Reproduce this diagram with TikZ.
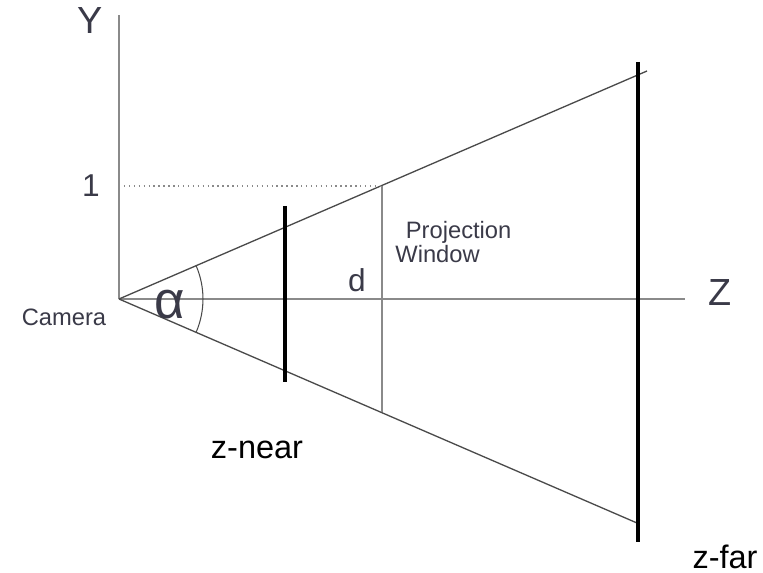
\documentclass[tikz,border=0pt]{standalone}
\usepackage{fontspec}
\setmainfont{Liberation Sans}
\definecolor{lbl}{HTML}{3A3A48}
\definecolor{axisgray}{HTML}{8A8A8A}
\definecolor{raygray}{HTML}{4A4A4A}
\begin{document}
\begin{tikzpicture}[x=0.02cm,y=-0.02cm,
  every node/.style={text=lbl,inner sep=0pt},
  axisline/.style={axisgray,line width=1.1pt},
  rayline/.style={raygray,line width=0.75pt},
  clipline/.style={black,line width=2.8pt},
  axislbl/.style={font=\fontsize{21.5}{22}\selectfont},
  smalllbl/.style={font=\fontsize{18}{18}\selectfont},
  planelbl/.style={text=black,font=\fontsize{18.5}{19}\selectfont}]
  \useasboundingbox (0,0) rectangle (763,573);
  % axes
  \coordinate (cam) at (119,299);
  \coordinate (ytop) at (119,15);
  \coordinate (zend) at (685,299);
  \draw[axisline] (cam) -- (ytop);
  \draw[axisline] (cam) -- (zend);
  \node[axislbl] (ylbl) at (90,21) {Y};
  \node[axislbl] (zlbl) at (720,293) {Z};
  \node[smalllbl] (onelbl) at (91,186) {1};
  \node[font=\fontsize{13.5}{13.5}\selectfont] (camlbl) at (64,317) {Camera};
  % frustum
  \coordinate (uend) at (647,71);
  \coordinate (lend) at (637,523);
  \draw[rayline] (cam) -- (uend);
  \draw[rayline] (cam) -- (lend);
  \draw[raygray,line width=0.6pt] (cam) ++(-23.3:1.68cm) arc[start angle=-23.3,end angle=23.3,radius=1.68cm];
  \node[font=\fontsize{30}{30}\selectfont] (alpha) at (170,305) {α};
  % projection window
  \coordinate (ytick) at (119,186);
  \coordinate (wtop) at (382,186);
  \coordinate (wbot) at (382,412);
  \draw[axisgray,line width=0.8pt,dotted] (ytick) -- (wtop);
  \draw[axisgray,line width=1pt] (wtop) -- (wbot);
  \node[smalllbl] (dlbl) at (357,280) {d};
  \node[align=left,font=\fontsize{13.5}{12.5}\selectfont,anchor=north west] (winlbl) at (395,221) {\hspace{6pt}Projection\\Window};
  % near and far planes
  \coordinate (ntop) at (285,206);
  \coordinate (nbot) at (285,382);
  \coordinate (ftop) at (638,62);
  \coordinate (fbot) at (638,542);
  \draw[clipline] (ntop) -- (nbot);
  \draw[clipline] (ftop) -- (fbot);
  \node[planelbl] (nearlbl) at (257,450) {z-near};
  \node[planelbl] (farlbl) at (725,557) {z-far};
\end{tikzpicture}
\end{document}
